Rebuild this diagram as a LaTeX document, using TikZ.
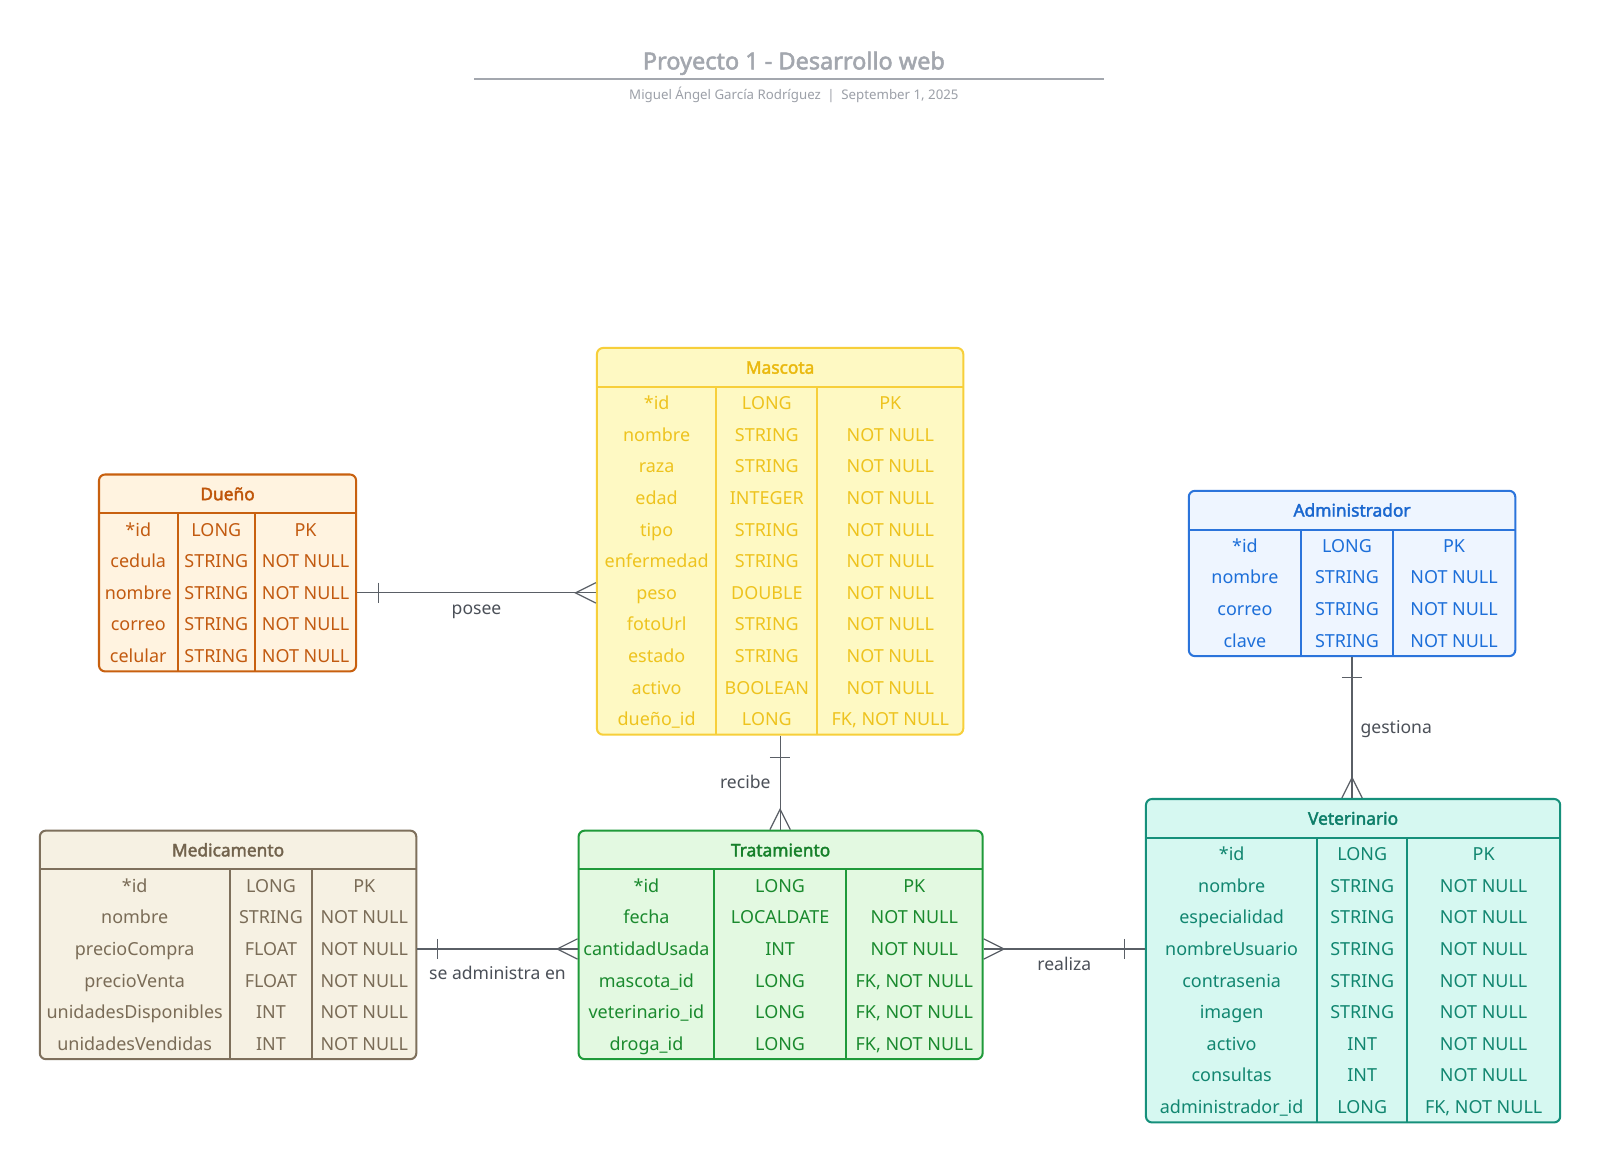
\documentclass[tikz,border=0pt]{standalone}
\usepackage{fontspec}
\setmainfont{Noto Sans}[AutoFakeBold=2.2]
\usetikzlibrary{fit,calc}
% colours
\definecolor{due-line}{HTML}{C8600F}\definecolor{due-fill}{HTML}{FFF3E0}\definecolor{due-text}{HTML}{C25A10}\definecolor{due-head}{HTML}{BF550A}
\definecolor{mas-line}{HTML}{F7CF3A}\definecolor{mas-fill}{HTML}{FEF9C3}\definecolor{mas-text}{HTML}{EEC31E}\definecolor{mas-head}{HTML}{EAB90F}
\definecolor{adm-line}{HTML}{2B74DB}\definecolor{adm-fill}{HTML}{EEF5FF}\definecolor{adm-text}{HTML}{1D6FD9}\definecolor{adm-head}{HTML}{1A67CF}
\definecolor{med-line}{HTML}{7E705C}\definecolor{med-fill}{HTML}{F6F1E3}\definecolor{med-text}{HTML}{7A6C57}\definecolor{med-head}{HTML}{72634D}
\definecolor{tra-line}{HTML}{1F9A3A}\definecolor{tra-fill}{HTML}{E3F9E1}\definecolor{tra-text}{HTML}{1A8A2E}\definecolor{tra-head}{HTML}{16802A}
\definecolor{vet-line}{HTML}{16907B}\definecolor{vet-fill}{HTML}{D6F8F1}\definecolor{vet-text}{HTML}{118670}\definecolor{vet-head}{HTML}{0E7E69}
\definecolor{conncol}{HTML}{5A5F66}
\definecolor{titlecol}{HTML}{A3A7AE}
\definecolor{subcol}{HTML}{9CA0A8}
\definecolor{lblcol}{HTML}{4B5058}
\newcommand\fknn{FK, NOT NULL}
\tikzset{
  box/.style={draw=#1-line, fill=#1-fill, line width=1pt, rounded corners=3pt, inner sep=0pt},
  sepline/.style={draw=#1-line, line width=1pt},
  hdr/.style={text=#1-head, font=\fontsize{8.5}{10}\selectfont\bfseries, inner sep=0pt, text height=6.2pt, text depth=0pt},
  cell/.style={text=#1-text, font=\fontsize{8.8}{10}\selectfont, inner sep=0pt, text height=6.3pt, text depth=0pt},
  conn/.style={draw=conncol, line width=0.6pt},
  lbl/.style={text=lblcol, font=\fontsize{8.6}{10}\selectfont, inner sep=0pt, text height=6.2pt, text depth=0pt},
}
% #1 name, #2 colour prefix, #3 left, #4 right, #5 top, #6 col1, #7 col2, #8 title, #9 rows
\def\ertable#1#2#3#4#5#6#7#8#9{%
  \gdef\ernrows{0}%
  \foreach \r in {#9}{\pgfmathtruncatemacro\ertmp{\ernrows+1}\global\let\ernrows\ertmp}%
  \pgfmathsetmacro\erhb{#5+38}%
  \pgfmathsetmacro\erbot{#5+38+31*\ernrows}%
  \coordinate (#1-nw) at (#3,#5);
  \coordinate (#1-se) at (#4,\erbot);
  \node[box=#2, fit=(#1-nw)(#1-se)] (#1) {};
  \draw[sepline=#2] (#3,\erhb) -- (#4,\erhb);
  \draw[sepline=#2] (#6,\erhb) -- (#6,\erbot);
  \draw[sepline=#2] (#7,\erhb) -- (#7,\erbot);
  \node[hdr=#2] (#1-h) at ({(#3+#4)/2},{#5+19}) {#8};
  \foreach \a/\b/\c [count=\i] in {#9}{%
    \node[cell=#2] (#1-\i-a) at ({(#3+#6)/2},{#5+54+31*(\i-1)}) {\a};
    \node[cell=#2] (#1-\i-b) at ({(#6+#7)/2},{#5+54+31*(\i-1)}) {\b};
    \node[cell=#2] (#1-\i-c) at ({(#7+#4)/2},{#5+54+31*(\i-1)}) {\c};
  }%
}
\begin{document}
\begin{tikzpicture}[x=0.5pt,y=-0.5pt]
\useasboundingbox (0,0) rectangle (1568,1139);
\fill[white] (0,0) rectangle (1568,1139);
% title
\node[text=titlecol, font=\fontsize{11.5}{13}\selectfont\bfseries, inner sep=0pt] (title) at (778,62) {Proyecto 1 - Desarrollo web};
\coordinate (tl1) at (465,77);
\coordinate (tl2) at (1082,77);
\draw[draw=titlecol, line width=1pt] (tl1) -- (tl2);
\node[text=subcol, font=\fontsize{6.5}{8}\selectfont, inner sep=0pt] (subtitle) at (778,93) {Miguel Ángel García Rodríguez\enspace|\enspace September 1, 2025};

% tables
\ertable{dueno}{due}{97}{349}{465}{174}{250}{Dueño}{%
  *id/LONG/PK, cedula/STRING/NOT NULL, nombre/STRING/NOT NULL, correo/STRING/NOT NULL, celular/STRING/NOT NULL}
\ertable{mascota}{mas}{585}{944}{341}{702}{801}{Mascota}{%
  *id/LONG/PK, nombre/STRING/NOT NULL, raza/STRING/NOT NULL, edad/INTEGER/NOT NULL, tipo/STRING/NOT NULL,
  enfermedad/STRING/NOT NULL, peso/DOUBLE/NOT NULL, fotoUrl/STRING/NOT NULL, estado/STRING/NOT NULL,
  activo/BOOLEAN/NOT NULL, dueño\_id/LONG/\fknn}
\ertable{admin}{adm}{1165}{1485}{481}{1275}{1365}{Administrador}{%
  *id/LONG/PK, nombre/STRING/NOT NULL, correo/STRING/NOT NULL, clave/STRING/NOT NULL}
\ertable{med}{med}{39}{408}{814}{225}{306}{Medicamento}{%
  *id/LONG/PK, nombre/STRING/NOT NULL, precioCompra/FLOAT/NOT NULL, precioVenta/FLOAT/NOT NULL,
  unidadesDisponibles/INT/NOT NULL, unidadesVendidas/INT/NOT NULL}
\ertable{trat}{tra}{567}{963}{814}{700}{829}{Tratamiento}{%
  *id/LONG/PK, fecha/LOCALDATE/NOT NULL, cantidadUsada/INT/NOT NULL, mascota\_id/LONG/\fknn,
  veterinario\_id/LONG/\fknn, droga\_id/LONG/\fknn}
\ertable{vet}{vet}{1123}{1529}{783}{1291}{1379}{Veterinario}{%
  *id/LONG/PK, nombre/STRING/NOT NULL, especialidad/STRING/NOT NULL, nombreUsuario/STRING/NOT NULL,
  contrasenia/STRING/NOT NULL, imagen/STRING/NOT NULL, activo/INT/NOT NULL, consultas/INT/NOT NULL,
  administrador\_id/LONG/\fknn}

% posee: Dueño (one) -- Mascota (many)
\draw[conn] (dueno.east |- dueno-3-a) coordinate (pa) -- (mascota.west |- dueno-3-a) coordinate (pb);
\draw[conn] ($(pa)+(21,-10)$) -- ($(pa)+(21,10)$);
\draw[conn] ($(pb)+(0,-10)$) -- ($(pb)+(-20,0)$) -- ($(pb)+(0,10)$);
\node[lbl] (lposee) at ($(pa)!0.5!(pb)+(0,15)$) {posee};

% recibe: Mascota (one) -- Tratamiento (many)
\draw[conn] (mascota.south) coordinate (ra) -- (mascota.south |- trat.north) coordinate (rb);
\draw[conn] ($(ra)+(-10,21)$) -- ($(ra)+(10,21)$);
\draw[conn] ($(rb)+(-10,0)$) -- ($(rb)+(0,-20)$) -- ($(rb)+(10,0)$);
\node[lbl, anchor=east] (lrecibe) at ($(ra)!0.5!(rb)+(-9,0)$) {recibe};

% se administra en: Medicamento (one) -- Tratamiento (many)
\draw[conn] (med.east |- med-3-a) coordinate (sa) -- (trat.west |- med-3-a) coordinate (sb);
\draw[conn] ($(sa)+(20,-10)$) -- ($(sa)+(20,10)$);
\draw[conn] ($(sb)+(0,-10)$) -- ($(sb)+(-20,0)$) -- ($(sb)+(0,10)$);
\node[lbl] (lsead) at ($(sa)!0.5!(sb)+(0,24)$) {se administra en};

% realiza: Tratamiento (many) -- Veterinario (one)
\draw[conn] (trat.east |- trat-3-a) coordinate (za) -- (vet.west |- trat-3-a) coordinate (zb);
\draw[conn] ($(za)+(0,-10)$) -- ($(za)+(20,0)$) -- ($(za)+(0,10)$);
\draw[conn] ($(zb)+(-20,-10)$) -- ($(zb)+(-20,10)$);
\node[lbl] (lrealiza) at ($(za)!0.5!(zb)+(0,15)$) {realiza};

% gestiona: Administrador (one) -- Veterinario (many)
\draw[conn] (admin.south) coordinate (ga) -- (admin.south |- vet.north) coordinate (gb);
\draw[conn] ($(ga)+(-10,20)$) -- ($(ga)+(10,20)$);
\draw[conn] ($(gb)+(-10,0)$) -- ($(gb)+(0,-20)$) -- ($(gb)+(10,0)$);
\node[lbl, anchor=west] (lgestiona) at ($(ga)!0.5!(gb)+(8,0)$) {gestiona};
\end{tikzpicture}
\end{document}
